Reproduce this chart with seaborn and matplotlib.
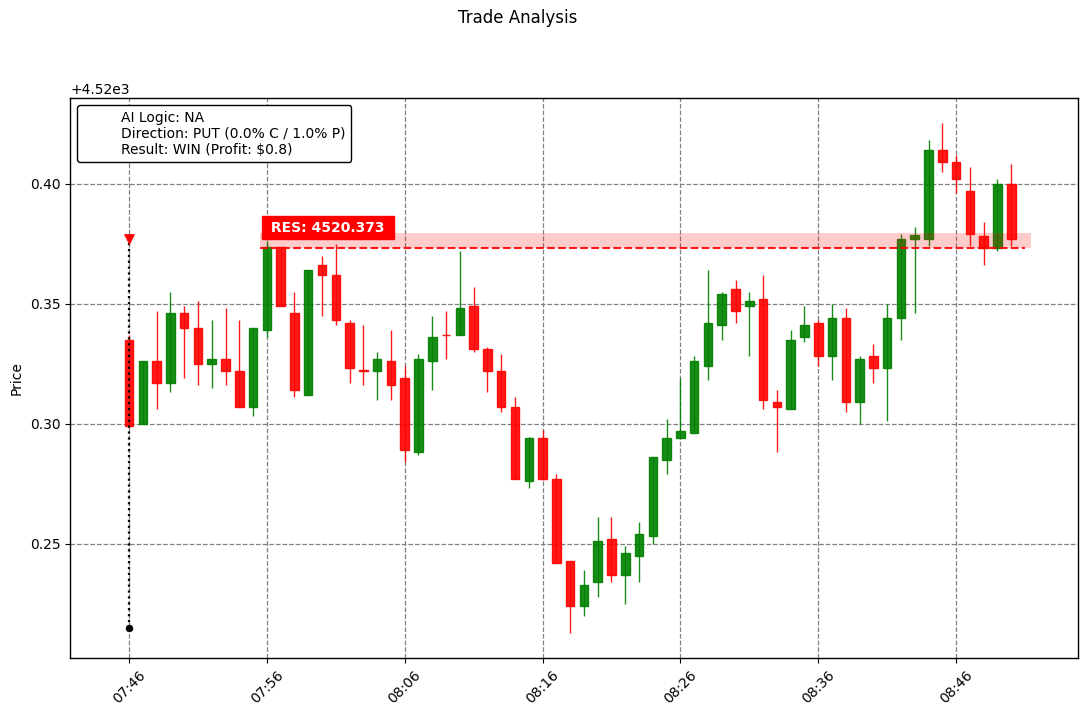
import numpy as np
import pandas as pd
import matplotlib
matplotlib.use("Agg")
import matplotlib.pyplot as plt
import matplotlib.dates as mdates
import seaborn as sns

# ---------------- data ----------------
BASE = 4520.0
start_time = "2024-01-01 07:46"
n_candles = 65

opens = [0.335, 0.300, 0.326, 0.317, 0.346, 0.340, 0.325, 0.327, 0.322, 0.307,
         0.339, 0.3735, 0.346, 0.312, 0.366, 0.362, 0.342, 0.3222, 0.322, 0.326,
         0.319, 0.288, 0.326, 0.3371, 0.337, 0.349, 0.331, 0.322, 0.307, 0.276,
         0.294, 0.277, 0.243, 0.224, 0.234, 0.252, 0.237, 0.245, 0.253, 0.285,
         0.294, 0.296, 0.324, 0.341, 0.356, 0.349, 0.352, 0.309, 0.306, 0.336,
         0.342, 0.328, 0.344, 0.309, 0.328, 0.323, 0.344, 0.377, 0.377, 0.414,
         0.409, 0.397, 0.378, 0.373, 0.400]
highs = [0.337, 0.326, 0.347, 0.355, 0.349, 0.351, 0.343, 0.348, 0.343, 0.340,
         0.376, 0.3735, 0.355, 0.364, 0.370, 0.375, 0.343, 0.341, 0.330, 0.339,
         0.324, 0.329, 0.345, 0.347, 0.372, 0.357, 0.332, 0.329, 0.311, 0.2945,
         0.2975, 0.279, 0.243, 0.239, 0.261, 0.261, 0.249, 0.259, 0.286, 0.302,
         0.319, 0.328, 0.364, 0.355, 0.360, 0.355, 0.362, 0.314, 0.339, 0.349,
         0.343, 0.350, 0.348, 0.328, 0.333, 0.350, 0.379, 0.382, 0.418, 0.425,
         0.412, 0.407, 0.384, 0.402, 0.408]
lows = [0.298, 0.300, 0.306, 0.313, 0.319, 0.316, 0.315, 0.316, 0.307, 0.303,
        0.336, 0.349, 0.311, 0.312, 0.345, 0.341, 0.317, 0.316, 0.310, 0.310,
        0.284, 0.287, 0.314, 0.327, 0.337, 0.330, 0.313, 0.305, 0.277, 0.273,
        0.2765, 0.242, 0.213, 0.220, 0.228, 0.234, 0.225, 0.234, 0.250, 0.279,
        0.294, 0.296, 0.318, 0.335, 0.342, 0.328, 0.306, 0.288, 0.306, 0.334,
        0.324, 0.318, 0.305, 0.300, 0.317, 0.301, 0.335, 0.346, 0.374, 0.405,
        0.396, 0.374, 0.366, 0.372, 0.374]
closes = [0.299, 0.326, 0.317, 0.346, 0.340, 0.325, 0.327, 0.322, 0.307, 0.340,
          0.3735, 0.349, 0.314, 0.364, 0.362, 0.343, 0.323, 0.3220, 0.327, 0.316,
          0.289, 0.327, 0.336, 0.3369, 0.348, 0.331, 0.322, 0.307, 0.277, 0.294,
          0.277, 0.242, 0.224, 0.233, 0.251, 0.237, 0.246, 0.254, 0.286, 0.294,
          0.297, 0.326, 0.342, 0.354, 0.347, 0.351, 0.310, 0.307, 0.335, 0.341,
          0.328, 0.344, 0.309, 0.327, 0.323, 0.344, 0.377, 0.3785, 0.414, 0.409,
          0.402, 0.379, 0.373, 0.400, 0.377]

res_level = 4520.373
res_band_top = 4520.3793
res_label = "RES: 4520.373"
entry_top = 4520.3767
entry_bottom = 4520.215

legend_lines = ["AI Logic: NA",
                "Direction: PUT (0.0% C / 1.0% P)",
                "Result: WIN (Profit: $0.8)"]
title = "Trade Analysis"
ylabel = "Price"

# ---------------- build frame ----------------
times = pd.date_range(start_time, periods=n_candles, freq="1min")
df = pd.DataFrame({
    "time": times,
    "open": BASE + np.array(opens),
    "high": BASE + np.array(highs),
    "low": BASE + np.array(lows),
    "close": BASE + np.array(closes),
})
df["up"] = df["close"] >= df["open"]
df["color"] = np.where(df["up"], "green", "red")

# ---------------- style ----------------
sns.set_style("ticks", {
    "axes.grid": True,
    "grid.color": "gray",
    "grid.linestyle": "--",
    "axes.edgecolor": "black",
    "text.color": "black",
    "axes.labelcolor": "black",
    "xtick.color": "black",
    "ytick.color": "black",
})
plt.rcParams["font.family"] = ["DejaVu Sans"]
plt.rcParams["grid.linewidth"] = 0.9

fig, ax = plt.subplots(figsize=(10.87, 7.16), dpi=100)
fig.subplots_adjust(left=0.0644, right=0.9917, top=0.8631, bottom=0.081)

minute = 1.0 / 1440.0
x = mdates.date2num(df["time"])
body_w = 0.62 * minute

# wicks
ax.vlines(x, df["low"], df["high"], colors=df["color"], linewidth=1.0, alpha=0.9, zorder=2)
# bodies
body_bottom = np.minimum(df["open"], df["close"])
body_height = np.abs(df["close"] - df["open"])
ax.bar(x, body_height, bottom=body_bottom, width=body_w, color=df["color"],
       edgecolor=df["color"], linewidth=1.0, alpha=0.9, zorder=3)

# resistance zone
t0 = mdates.date2num(pd.Timestamp(start_time))
x0 = t0 + 9.5 * minute
x1 = t0 + 65.4 * minute
x1l = t0 + 65.0 * minute
ax.fill_between([x0, x1], res_level, res_band_top, color="red", alpha=0.2,
                linewidth=0, zorder=4)
ax.plot([x0, x1l], [res_level, res_level], color="red", linestyle="--",
        linewidth=1.5, alpha=0.9, zorder=5)
ax.text(x0 + 0.45 * minute, res_level + 0.0057, " " + res_label + " ",
        color="white", fontsize=10, fontweight="bold", ha="left", va="bottom",
        bbox=dict(boxstyle="square,pad=0.32", facecolor="red", edgecolor="red"),
        zorder=6)

# entry marker
xe = x[0]
ax.plot([xe, xe], [entry_bottom, entry_top], color="black", linestyle=":",
        linewidth=1.6, zorder=6)
marks = pd.DataFrame({"time": [df["time"][0], df["time"][0]],
                      "price": [entry_top, entry_bottom],
                      "kind": ["top", "bottom"]})
sns.scatterplot(data=marks[marks.kind == "top"], x="time", y="price", marker="v",
                color="red", s=50, edgecolor="red", ax=ax, zorder=7, legend=False)
sns.scatterplot(data=marks[marks.kind == "bottom"], x="time", y="price", marker="o",
                color="black", s=25, edgecolor="black", ax=ax, zorder=7, legend=False)

# legend with blank handles
for line in legend_lines:
    ax.plot([], [], " ", label=line)
ax.legend(loc="upper left", edgecolor="black", framealpha=1, fontsize=10,
          labelspacing=0.15)

# axes
ax.set_xlim(t0 - 4.28 * minute, t0 + 68.84 * minute)
ax.xaxis.set_major_locator(mdates.MinuteLocator(byminute=[6, 16, 26, 36, 46, 56]))
ax.xaxis.set_major_formatter(mdates.DateFormatter("%H:%M"))
plt.setp(ax.get_xticklabels(), rotation=45)
ax.set_xlabel("")
ax.set_ylabel(ylabel)
ax.tick_params(axis="both", labelsize=10, length=3.5, width=0.8)
for s in ax.spines.values():
    s.set_linewidth(1.0)
    s.set_color("black")

fig.suptitle(title, fontsize=12, x=0.476, y=0.987)
fig.savefig("out.png", dpi=100)
